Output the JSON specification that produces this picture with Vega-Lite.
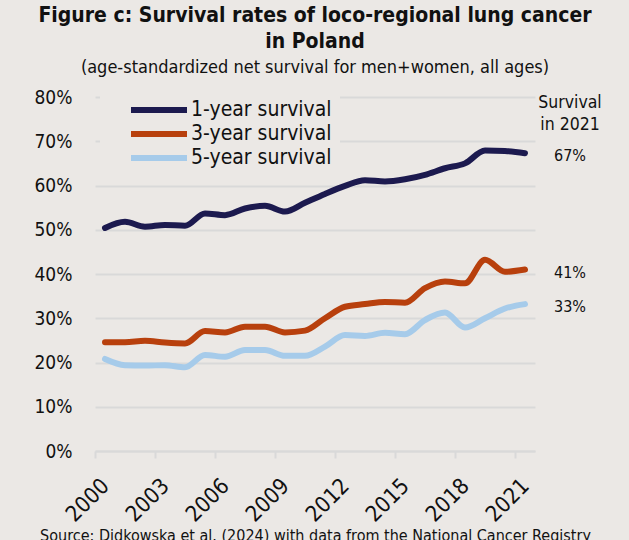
{
  "$schema": "https://vega.github.io/schema/vega-lite/v6.json",
  "autosize": {"type": "none"},
  "width": 440,
  "height": 354,
  "padding": {"left": 95, "top": 97, "right": 94, "bottom": 89},
  "background": "#ebe8e5",
  "title": {
    "text": ["Figure c: Survival rates of loco-regional lung cancer", "in Poland"],
    "subtitle": "(age-standardized net survival for men+women, all ages)",
    "anchor": "middle",
    "fontSize": 21,
    "fontWeight": "bold",
    "lineHeight": 26,
    "subtitleFontSize": 18,
    "subtitlePadding": 7,
    "color": "#111111",
    "subtitleColor": "#111111",
    "offset": 11
  },
  "config": {
    "font": "DejaVu Sans Condensed",
    "view": {"stroke": null},
    "legend": {"labelFont": "DejaVu Sans Condensed"}
  },
  "data": {
    "values": [
      {"year": 2000, "series": "1-year survival", "v": 0.504},
      {"year": 2001, "series": "1-year survival", "v": 0.518},
      {"year": 2002, "series": "1-year survival", "v": 0.507},
      {"year": 2003, "series": "1-year survival", "v": 0.511},
      {"year": 2004, "series": "1-year survival", "v": 0.509},
      {"year": 2005, "series": "1-year survival", "v": 0.537},
      {"year": 2006, "series": "1-year survival", "v": 0.533},
      {"year": 2007, "series": "1-year survival", "v": 0.548},
      {"year": 2008, "series": "1-year survival", "v": 0.554},
      {"year": 2009, "series": "1-year survival", "v": 0.541},
      {"year": 2010, "series": "1-year survival", "v": 0.561},
      {"year": 2011, "series": "1-year survival", "v": 0.581},
      {"year": 2012, "series": "1-year survival", "v": 0.599},
      {"year": 2013, "series": "1-year survival", "v": 0.612},
      {"year": 2014, "series": "1-year survival", "v": 0.609},
      {"year": 2015, "series": "1-year survival", "v": 0.614},
      {"year": 2016, "series": "1-year survival", "v": 0.624},
      {"year": 2017, "series": "1-year survival", "v": 0.639},
      {"year": 2018, "series": "1-year survival", "v": 0.650},
      {"year": 2019, "series": "1-year survival", "v": 0.679},
      {"year": 2020, "series": "1-year survival", "v": 0.678},
      {"year": 2021, "series": "1-year survival", "v": 0.673},
      {"year": 2000, "series": "3-year survival", "v": 0.246},
      {"year": 2001, "series": "3-year survival", "v": 0.246},
      {"year": 2002, "series": "3-year survival", "v": 0.249},
      {"year": 2003, "series": "3-year survival", "v": 0.245},
      {"year": 2004, "series": "3-year survival", "v": 0.243},
      {"year": 2005, "series": "3-year survival", "v": 0.271},
      {"year": 2006, "series": "3-year survival", "v": 0.268},
      {"year": 2007, "series": "3-year survival", "v": 0.281},
      {"year": 2008, "series": "3-year survival", "v": 0.281},
      {"year": 2009, "series": "3-year survival", "v": 0.268},
      {"year": 2010, "series": "3-year survival", "v": 0.272},
      {"year": 2011, "series": "3-year survival", "v": 0.300},
      {"year": 2012, "series": "3-year survival", "v": 0.326},
      {"year": 2013, "series": "3-year survival", "v": 0.332},
      {"year": 2014, "series": "3-year survival", "v": 0.337},
      {"year": 2015, "series": "3-year survival", "v": 0.335},
      {"year": 2016, "series": "3-year survival", "v": 0.368},
      {"year": 2017, "series": "3-year survival", "v": 0.383},
      {"year": 2018, "series": "3-year survival", "v": 0.379},
      {"year": 2019, "series": "3-year survival", "v": 0.432},
      {"year": 2020, "series": "3-year survival", "v": 0.405},
      {"year": 2021, "series": "3-year survival", "v": 0.410},
      {"year": 2000, "series": "5-year survival", "v": 0.208},
      {"year": 2001, "series": "5-year survival", "v": 0.194},
      {"year": 2002, "series": "5-year survival", "v": 0.193},
      {"year": 2003, "series": "5-year survival", "v": 0.194},
      {"year": 2004, "series": "5-year survival", "v": 0.189},
      {"year": 2005, "series": "5-year survival", "v": 0.217},
      {"year": 2006, "series": "5-year survival", "v": 0.213},
      {"year": 2007, "series": "5-year survival", "v": 0.228},
      {"year": 2008, "series": "5-year survival", "v": 0.228},
      {"year": 2009, "series": "5-year survival", "v": 0.215},
      {"year": 2010, "series": "5-year survival", "v": 0.215},
      {"year": 2011, "series": "5-year survival", "v": 0.236},
      {"year": 2012, "series": "5-year survival", "v": 0.262},
      {"year": 2013, "series": "5-year survival", "v": 0.260},
      {"year": 2014, "series": "5-year survival", "v": 0.267},
      {"year": 2015, "series": "5-year survival", "v": 0.264},
      {"year": 2016, "series": "5-year survival", "v": 0.296},
      {"year": 2017, "series": "5-year survival", "v": 0.313},
      {"year": 2018, "series": "5-year survival", "v": 0.279},
      {"year": 2019, "series": "5-year survival", "v": 0.300},
      {"year": 2020, "series": "5-year survival", "v": 0.322},
      {"year": 2021, "series": "5-year survival", "v": 0.332}
    ]
  },
  "encoding": {
    "x": {
      "field": "year",
      "type": "quantitative",
      "scale": {"domain": [1999.5, 2021.5], "nice": false, "zero": false},
      "axis": {
        "values": [2000, 2003, 2006, 2009, 2012, 2015, 2018, 2021],
        "format": "d",
        "labelAngle": -45,
        "labelAlign": "right",
        "labelBaseline": "middle",
        "labelFontSize": 22,
        "labelColor": "#111111",
        "labelPadding": 24,
        "tickOffset": -10,
        "labelOffset": 10,
        "tickColor": "#d9d9d9",
        "tickWidth": 2,
        "tickSize": 7,
        "domainColor": "#d9d9d9",
        "domainWidth": 2,
        "grid": false,
        "title": "Source: Didkowska et al. (2024) with data from the National Cancer Registry",
        "titleFontSize": 16,
        "titleFontWeight": "normal",
        "titleColor": "#111111",
        "titleBaseline": "alphabetic",
        "titleY": 89,
        "titleX": 220,
        "titleAnchor": "middle"
      }
    },
    "y": {
      "field": "v",
      "type": "quantitative",
      "scale": {"domain": [0, 0.8], "nice": false},
      "axis": {
        "values": [0, 0.1, 0.2, 0.3, 0.4, 0.5, 0.6, 0.7, 0.8],
        "format": ".0%",
        "labelFontSize": 19,
        "labelColor": "#111111",
        "labelPadding": 23,
        "ticks": false,
        "domain": false,
        "gridColor": "#d9d9d9",
        "gridWidth": 2,
        "title": null
      }
    }
  },
  "layer": [
    {
      "mark": {"type": "line", "interpolate": "monotone", "strokeWidth": 6, "strokeCap": "round", "strokeJoin": "round"},
      "encoding": {
        "color": {
          "field": "series",
          "type": "nominal",
          "scale": {
            "domain": ["1-year survival", "3-year survival", "5-year survival"],
            "range": ["#1c1a4f", "#b8400d", "#a6cbea"]
          },
          "legend": {
            "title": null,
            "orient": "none",
            "legendX": 5,
            "legendY": -6,
            "padding": 8,
            "fillColor": "#ebe8e5",
            "symbolType": "M-3.5,0H3.5",
            "symbolSize": 256,
            "symbolStrokeWidth": 6,
            "symbolOffset": 40,
            "labelOffset": 21,
            "labelFontSize": 21,
            "labelColor": "#111111",
            "rowPadding": 0,
            "labelLimit": 300
          }
        }
      }
    },
    {
      "transform": [{"filter": "datum.year == 2021"}],
      "mark": {"type": "text", "dx": 45, "dy": 3, "fontSize": 16, "align": "center", "baseline": "middle", "color": "#111111"},
      "encoding": {
        "text": {"field": "v", "type": "quantitative", "format": ".0%"}
      }
    },
    {
      "transform": [{"filter": "datum.year == 2021 && datum.series == '1-year survival'"}],
      "mark": {"type": "text", "dx": 45, "dy": 11, "fontSize": 17.5, "align": "center", "baseline": "alphabetic", "lineHeight": 22, "color": "#111111"},
      "encoding": {
        "x": {"datum": 2021},
        "y": {"datum": 0.8},
        "text": {"value": ["Survival", "in 2021"]}
      }
    }
  ]
}
